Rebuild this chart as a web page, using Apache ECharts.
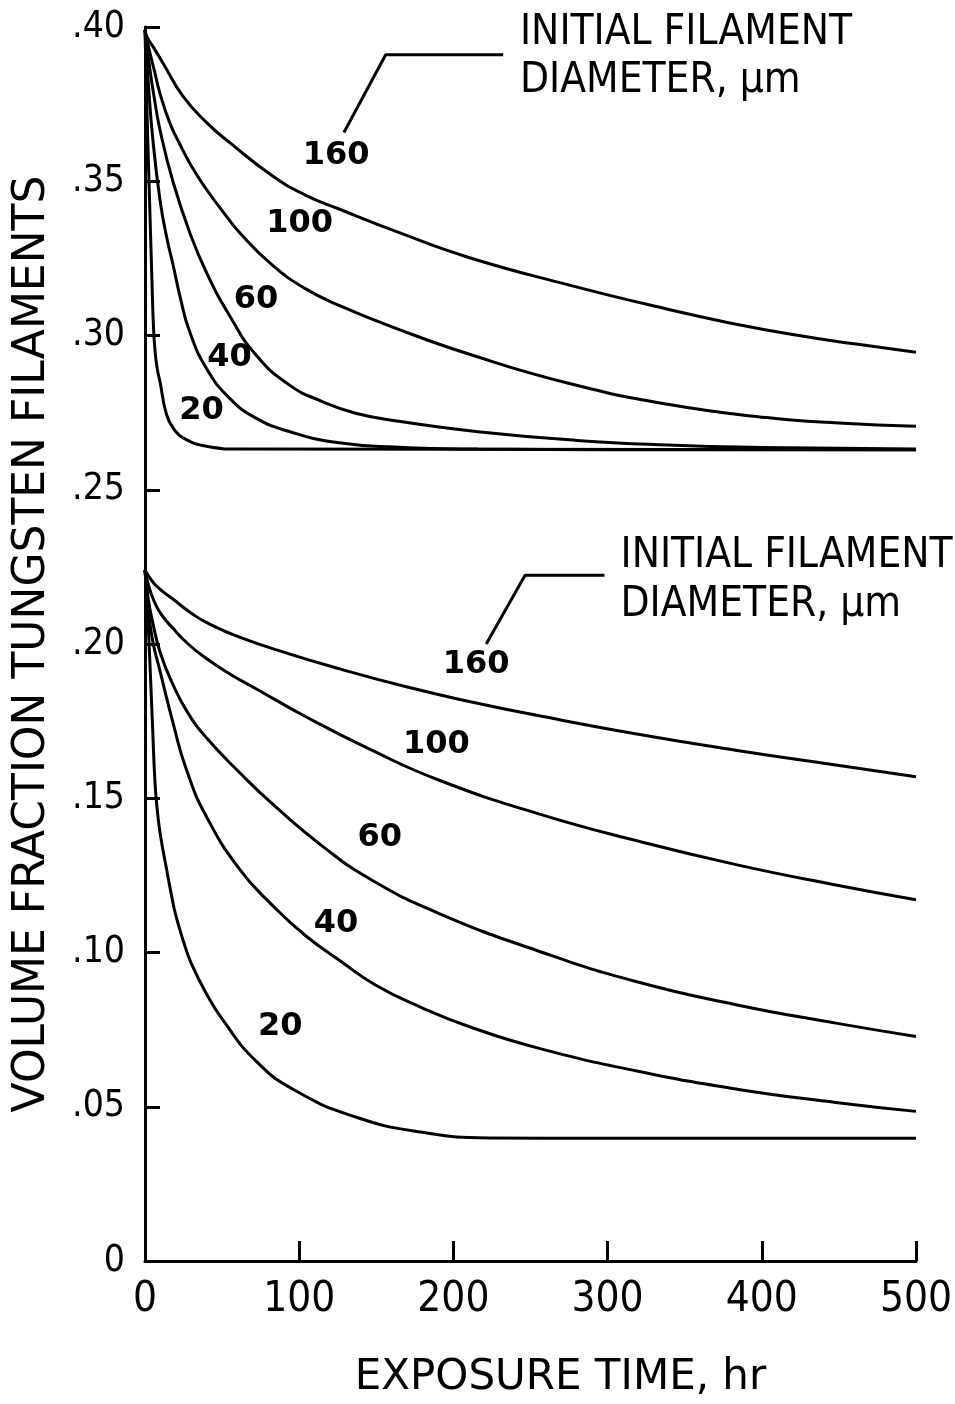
<!DOCTYPE html>
<html lang="en">
<head>
<meta charset="UTF-8">
<title>Volume fraction tungsten filaments vs exposure time</title>
<style>
  html, body { margin: 0; padding: 0; background: #fff; }
  #chart { width: 955px; height: 1404px; }
</style>
</head>
<body>
<div id="chart"></div>
<script src="https://cdn.jsdelivr.net/npm/echarts@6/dist/echarts.min.js"></script>
<script>
// tick labels
var xTickLabels = ['0', '100', '200', '300', '400', '500'];
var yTickLabels = ['0', '.05', '.10', '.15', '.20', '.25', '.30', '.35', '.40'];

// upper family of curves [hr, volume fraction]
var top160 = [[0,0.399],[1,0.397],[6,0.393],[12,0.388],[24.7,0.3775],[40,0.369],[55,0.3625],[82.8,0.3517],[104,0.3455],[125.8,0.341],[164.5,0.3334],[210,0.3253],[274,0.3165],[339,0.3085],[380,0.304],[420,0.3003],[460,0.2973],[500,0.2946]];
var top100 = [[0,0.399],[3,0.392],[6,0.386],[9.7,0.3785],[16,0.369],[22.6,0.362],[30,0.355],[39.8,0.3474],[50,0.3405],[61.3,0.3334],[82.8,0.3227],[104,0.3152],[125.8,0.3098],[164.5,0.302],[210,0.294],[274,0.2846],[339,0.2777],[403,0.2734],[450,0.2716],[500,0.2706]];
var top60 = [[0,0.399],[3,0.387],[6,0.377],[10,0.366],[18.3,0.3496],[29,0.3334],[39.8,0.3205],[54.8,0.3065],[72,0.2937],[93.5,0.284],[115,0.2786],[136.6,0.2748],[164.5,0.2722],[216,0.2688],[280,0.266],[339,0.2645],[400,0.2637],[500,0.2632]];
var top40 = [[0,0.399],[2,0.383],[5,0.364],[9.7,0.344],[14,0.332],[18.3,0.3227],[23,0.312],[29,0.3012],[39.8,0.2894],[54.8,0.2797],[72,0.2732],[93.5,0.2689],[125.8,0.2652],[164.5,0.2638],[216,0.2632],[300,0.263],[500,0.263]];
var top20 = [[0,0.399],[1.1,0.376],[3,0.343],[4.5,0.318],[5.4,0.304],[6.5,0.295],[8,0.289],[9.7,0.2851],[14,0.2743],[19,0.2695],[24.7,0.2668],[39.8,0.2641],[61.3,0.2632],[500,0.263]];

// lower family of curves
var bot160 = [[0,0.224],[3,0.2215],[8,0.2185],[18.3,0.2145],[30,0.21],[39.8,0.207],[61.3,0.2022],[93.5,0.1968],[125.8,0.192],[168.8,0.1862],[211.8,0.1812],[254.8,0.1768],[319,0.1708],[384,0.1655],[448,0.1608],[500,0.157]];
var bot100 = [[0,0.224],[2,0.2195],[5,0.215],[10,0.21],[18.3,0.205],[28,0.2],[39.8,0.1953],[55,0.1903],[72,0.1855],[104,0.1765],[147,0.1656],[190,0.156],[254.8,0.145],[319,0.1362],[384,0.1284],[448,0.1219],[500,0.1171]];
var bot60 = [[0,0.224],[2,0.215],[5,0.207],[10,0.197],[18,0.187],[28,0.1775],[40,0.1695],[61,0.1585],[83,0.148],[115,0.1345],[147,0.1235],[190,0.1128],[255,0.1005],[319,0.0905],[384,0.083],[448,0.0771],[500,0.0728]];
var bot40 = [[0,0.224],[2,0.212],[5,0.201],[9.7,0.1913],[18.3,0.1742],[26.9,0.1592],[39.8,0.1441],[61.3,0.127],[82.8,0.1152],[104,0.1055],[126,0.0975],[150,0.0893],[180,0.082],[210,0.076],[255,0.069],[319,0.0616],[384,0.0557],[448,0.0514],[500,0.0485]];
var bot20 = [[0,0.224],[1,0.217],[3,0.196],[5,0.172],[6.5,0.155],[8,0.146],[10,0.138],[14,0.127],[17,0.119],[20,0.112],[25,0.1035],[30,0.0965],[40,0.0865],[50,0.0785],[72,0.0648],[98,0.0551],[137,0.0466],[180,0.0417],[223,0.0399],[300,0.0398],[500,0.0398]];

// curve labels [hr, value, text]
var curveLabels = [
  [123.9,0.3584,'160'],[100.3,0.3363,'100'],[72,0.3117,'60'],[54.8,0.2929,'40'],[36.6,0.2756,'20'],
  [214.8,0.1932,'160'],[189,0.1674,'100'],[152.3,0.1371,'60'],[123.9,0.1094,'40'],[87.7,0.0758,'20']
];
// leader lines and their headings
var leaderTop = [[129,0.3658],[156.1,0.391],[232.3,0.391]];
var leaderBottom = [[221.3,0.2],[246.5,0.2223],[298,0.2223]];
var headings = [
  [243.2,0.3979,'INITIAL FILAMENT'],[243.2,0.3825,'DIAMETER, \u00b5m'],
  [308.4,0.2285,'INITIAL FILAMENT'],[308.4,0.2127,'DIAMETER, \u00b5m']
];

var narrow = "'Liberation Sans Narrow', 'DejaVu Sans Condensed', sans-serif";

function curve(data) {
  return {
    type: 'line', data: data, showSymbol: false, symbol: 'none',
    smooth: 0.5,
    lineStyle: { color: '#000', width: 3 }, silent: true
  };
}
function leader(data) {
  return {
    type: 'line', data: data, showSymbol: false, symbol: 'none',
    lineStyle: { color: '#000', width: 3 }, silent: true
  };
}
function textLayer(data, label) {
  return {
    type: 'scatter', data: data, symbolSize: 0, clip: false, silent: true,
    itemStyle: { color: '#000' },
    label: Object.assign({ show: true, color: '#000', opacity: 1,
      formatter: function (p) { return p.data[2]; } }, label)
  };
}

var option = {
  animation: false,
  backgroundColor: '#fff',
  grid: { left: 145, right: 35, top: 27, bottom: 137 },
  xAxis: {
    type: 'value', min: 0, max: 500, interval: 100,
    name: 'EXPOSURE TIME, hr', nameLocation: 'middle', nameGap: 96,
    nameTextStyle: { fontFamily: 'DejaVu Sans', fontSize: 42, color: '#000', padding: [0, 0, 0, 60] },
    axisLine: { lineStyle: { color: '#000', width: 3 } },
    axisTick: { inside: true, length: 20, lineStyle: { color: '#000', width: 3 } },
    axisLabel: {
      margin: 18, fontFamily: narrow, fontSize: 42, color: '#000',
      formatter: function (v) { return xTickLabels[Math.round(v / 100)]; }
    },
    splitLine: { show: false }
  },
  yAxis: {
    type: 'value', min: 0, max: 0.4, interval: 0.05,
    name: 'VOLUME FRACTION TUNGSTEN FILAMENTS', nameLocation: 'middle', nameGap: 90,
    nameTextStyle: { fontFamily: 'DejaVu Sans', fontSize: 44, color: '#000' },
    axisLine: { lineStyle: { color: '#000', width: 3 } },
    axisTick: { inside: true, length: 15, lineStyle: { color: '#000', width: 3 } },
    axisLabel: {
      margin: 20, fontFamily: narrow, fontSize: 37, color: '#000',
      formatter: function (v) { return yTickLabels[Math.round(v / 0.05)]; }
    },
    splitLine: { show: false }
  },
  series: [
    curve(top160), curve(top100), curve(top60), curve(top40), curve(top20),
    curve(bot160), curve(bot100), curve(bot60), curve(bot40), curve(bot20),
    leader(leaderTop), leader(leaderBottom),
    textLayer(curveLabels, {
      position: 'inside', fontFamily: 'DejaVu Sans', fontWeight: 'bold', fontSize: 32
    }),
    textLayer(headings, {
      position: 'right', distance: 0, align: 'left', verticalAlign: 'middle',
      fontFamily: narrow, fontSize: 42
    })
  ]
};

var chart = echarts.init(document.getElementById('chart'));
chart.setOption(option);
</script>
</body>
</html>
